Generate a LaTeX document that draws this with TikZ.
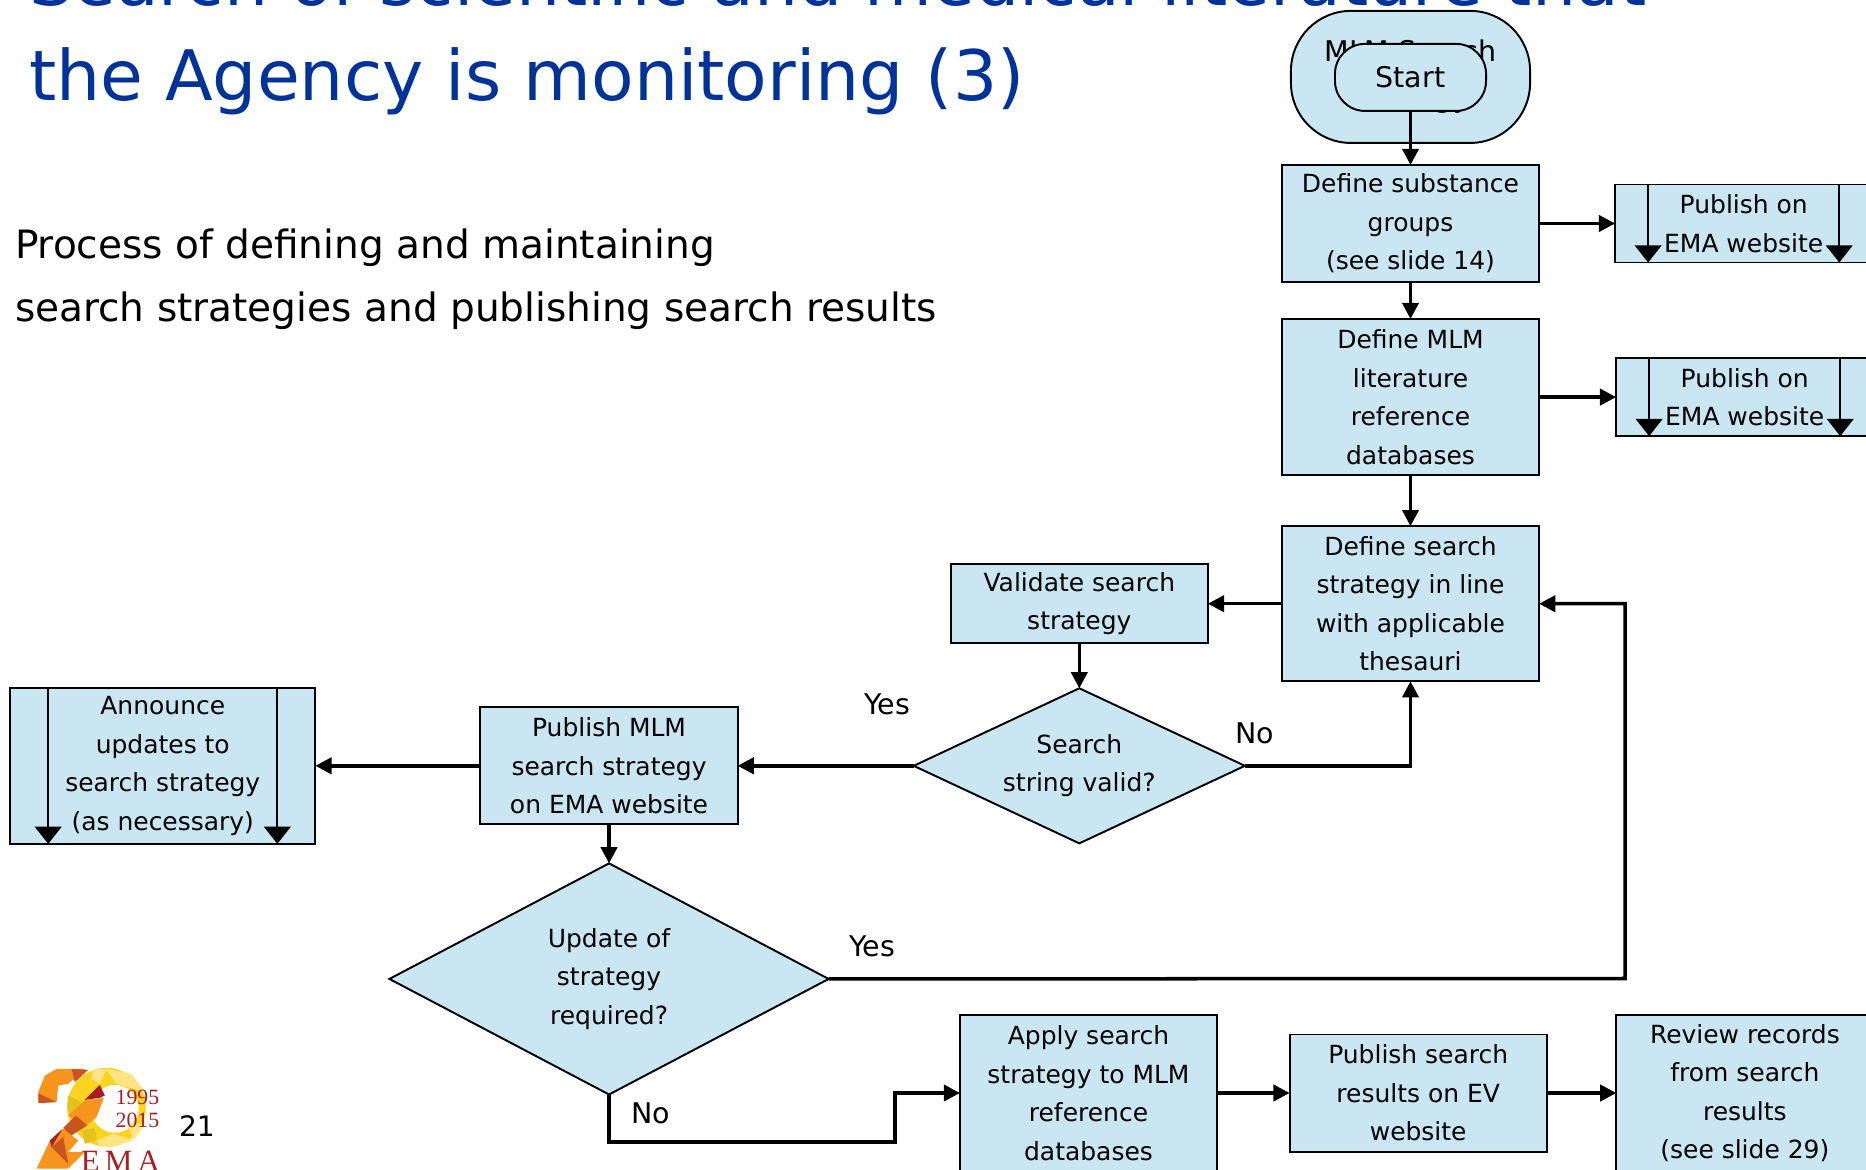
\documentclass[tikz,border=0pt]{standalone}
\usepackage{fontspec}
\setmainfont{DejaVu Sans}
\newfontfamily\logofont{Liberation Serif}
\usepackage{color}
\usetikzlibrary{arrows.meta, shapes.geometric}
\definecolor{boxblue}{HTML}{C9E6F2}
\definecolor{titleblue}{HTML}{003399}
\definecolor{logored}{HTML}{A31F24}
\definecolor{logoor}{HTML}{F7941D}
\definecolor{logodk}{HTML}{C9541F}
\definecolor{logoye}{HTML}{FBD321}
\definecolor{logolt}{HTML}{FDE583}
\definecolor{logool}{HTML}{E3C21E}
\tikzset{x=0.01cm,y=-0.01cm,>={Triangle[length=4.6pt,width=4.6pt]},
	flow/.style={->,line width=1pt},
	inner/.style={-{Triangle[length=4.9pt,width=7.6pt]},line width=0.55pt},
	base/.style={draw,line width=0.55pt,fill=boxblue,inner sep=0pt,outer sep=0pt,align=center,font=\fontsize{7.1}{10.95}\selectfont},
	process/.style={base,rectangle,minimum width=2.57cm},
	terminal/.style={base,rectangle,rounded corners=#1},
	decision/.style={base,diamond},
	label/.style={font=\fontsize{8.1}{10}\selectfont,inner sep=0pt},
	plain/.style={anchor=base west,inner sep=0pt,outer sep=0pt}}

\begin{document}
\begin{tikzpicture}
	\useasboundingbox (0,0) rectangle (1866,1170);

	% title and subtitle
	\node[plain,text=titleblue,font=\fontsize{19.8}{24}\selectfont] (title1) at (29,6) {Search of scientific and medical literature that};
	\node[plain,text=titleblue,font=\fontsize{19.8}{24}\selectfont] (title2) at (29,101) {the Agency is monitoring (3)};
	\node[plain,font=\fontsize{11.1}{14}\selectfont] (sub1) at (15,259) {Process of defining and maintaining};
	\node[plain,font=\fontsize{11.1}{14}\selectfont] (sub2) at (15,321) {search strategies and publishing search results};

	% right column
	\node[process,minimum height=1.17cm] (groups) at (1410.5,223.5) {Define substance\\groups\\(see slide 14)};
	\node[terminal=0.6cm,minimum width=2.39cm,minimum height=1.32cm,font=\fontsize{8.1}{13}\selectfont] (strategy) [above of=groups,node distance=1.465cm] {MLM Search\\strategy};
	\node[terminal=0.3cm,minimum width=1.51cm,minimum height=0.67cm,font=\fontsize{8.1}{10}\selectfont] (start) [above of=groups,node distance=1.46cm] {Start};
	\node[process,minimum height=1.56cm] (databases) [below of=groups,node distance=1.735cm] {Define MLM\\literature\\reference\\databases};
	\node[process,minimum height=1.55cm] (thesauri) [below of=databases,node distance=2.065cm] {Define search\\strategy in line\\with applicable\\thesauri};
	\node[process,minimum height=0.78cm] (web1) [right of=groups,node distance=3.33cm] {Publish on\\EMA website};
	\node[process,minimum height=0.78cm] (web2) [right of=databases,node distance=3.34cm] {Publish on\\EMA website};

	% middle row
	\node[process,minimum height=0.79cm] (validate) [left of=thesauri,node distance=3.31cm] {Validate search\\strategy};
	\node[decision,shape aspect=2.13,minimum width=3.31cm,minimum height=1.55cm] (valid) [below of=validate,node distance=1.62cm] {Search\\string valid?};
	\node[process,minimum height=1.17cm] (publish) [left of=valid,node distance=4.7cm] {Publish MLM\\search strategy\\on EMA website};
	\node[process,minimum width=3.05cm,minimum height=1.56cm] (announce) [left of=publish,node distance=4.46cm] {Announce\\updates to\\search strategy\\(as necessary)};
	\node[decision,shape aspect=1.9,minimum width=4.39cm,minimum height=2.31cm] (update) [below of=publish,node distance=2.13cm] {Update of\\strategy\\required?};

	% bottom row
	\node[process,minimum height=1.56cm] (apply) at (1088.5,1093) {Apply search\\strategy to MLM\\reference\\databases};
	\node[process,minimum height=1.17cm] (results) [right of=apply,node distance=3.295cm] {Publish search\\results on EV\\website};
	\node[process,minimum height=1.56cm] (review) [right of=results,node distance=3.265cm] {Review records\\from search\\results\\(see slide 29)};

	% side lines of the predefined processes
	\foreach \n/\a in {web1/0.33cm,web2/0.33cm,announce/0.38cm} {
		\draw[inner] ([xshift=\a]\n.north west) -- ([xshift=\a]\n.south west);
		\draw[inner] ([xshift=-\a]\n.north east) -- ([xshift=-\a]\n.south east);
	}

	\coordinate (loop) at (1625,978.5);
	\coordinate (low) at (895,1142);

	\path[flow]
		(start) edge (groups)
		(groups) edge (databases)
		(databases) edge (thesauri)
		(groups) edge (web1)
		(databases) edge (web2)
		(thesauri) edge (validate)
		(validate) edge (valid)
		(valid) edge node[label,above=14pt,pos=0.15] (yes1) {Yes} (publish)
		(publish) edge (announce)
		(publish) edge (update)
		(apply) edge (results)
		(results) edge (review)
		;
	\draw[flow] (valid.east) -| (thesauri.south);
	\draw[flow] (update.east) -- (loop) |- (thesauri.east);
	\draw[flow] (update.south) |- (low) |- (apply.west);
	\node[label] (no1) at (1255,733) {No};
	\node[label] (yes2) at (872,946) {Yes};
	\node[label] (no2) at (651,1113) {No};

	% logo
	\begin{scope}[x=0.00333cm,y=-0.00333cm,yshift=-10.4cm]
		\fill[logoye,even odd rule] (320,200) circle (118) (345,205) circle (72);
		\fill[logolt] (320,85) -- (395,100) -- (437,155) -- (350,130) -- cycle;
		\fill[logolt] (280,85) -- (320,85) -- (300,130) -- (275,115) -- cycle;
		\fill[logool] (205,165) -- (255,190) -- (215,235) -- (202,200) -- cycle;
		\fill[logolt] (290,300) -- (340,280) -- (400,300) -- (340,320) -- (300,318) -- cycle;
		\fill[logolt] (385,250) -- (437,250) -- (400,300) -- cycle;
		\fill[logool] (245,270) -- (285,262) -- (290,300) -- (255,310) -- cycle;
		\fill[logoor] (115,155) -- (135,105) -- (170,85) -- (255,85) -- (205,130) -- (175,135) -- (170,185) -- (115,185) -- cycle;
		\fill[logodk] (215,85) -- (265,88) -- (225,125) -- cycle;
		\fill[logodk] (115,158) -- (170,185) -- (115,188) -- cycle;
		\fill[logored] (255,178) -- (300,133) -- (315,165) -- (300,172) -- cycle;
		\fill[logoor] (255,180) -- (312,172) -- (290,230) -- (250,262) -- (205,225) -- cycle;
		\fill[logodk] (228,225) -- (262,255) -- (210,288) -- (190,262) -- cycle;
		\fill[logoor] (190,265) -- (235,300) -- (205,335) -- (255,335) -- (205,385) -- (110,385) -- (150,300) -- cycle;
		\fill[logodk] (155,320) -- (190,290) -- (205,370) -- cycle;
		\fill[logored] (150,300) -- (188,265) -- (155,320) -- cycle;
		\node[inner sep=0pt,text=logored,align=right,font=\logofont\fontsize{6.2}{6.6}\selectfont] (years) at (413,205) {1995\\2015};
		\node[inner sep=0pt,text=logored,font=\logofont\fontsize{8.8}{10}\selectfont] (ema) at (362,362) {E\,M\,A};
	\end{scope}
	\node[plain,font=\fontsize{8}{10}\selectfont] (page) at (179,1136) {21};
\end{tikzpicture}
\end{document}
